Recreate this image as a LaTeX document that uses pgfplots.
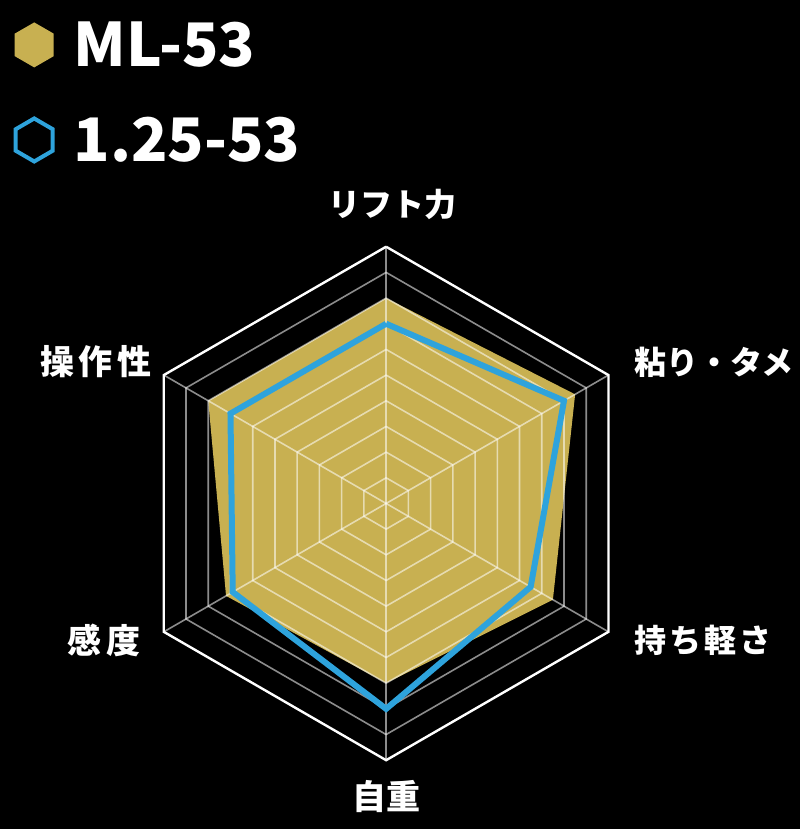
\documentclass[border=0pt]{standalone}
\usepackage{pgfplots}
\pgfplotsset{compat=1.18}
\usepackage{fontspec}
\newfontfamily\jp{Noto Sans CJK JP}
\newfontfamily\jpa{Noto Sans CJK JP}
\newfontfamily\jpb{Noto Sans CJK JP}[LetterSpace=10]
\newfontfamily\jpc{Noto Sans CJK JP}[LetterSpace=14]
\definecolor{gold}{HTML}{C8B051}
\definecolor{skyblue}{HTML}{2EA3DC}
\pgfplotsset{
  grid line/.style={draw=white, draw opacity=0.55, line width=1.6pt, forget plot},
}
\begin{document}
\begin{tikzpicture}
\begin{axis}[
  hide axis,
  x=25.67pt, y=25.67pt,
  xmin=-15.04, xmax=16.13,
  ymin=-12.68, ymax=19.61,
  clip=false,
  legend style={
    at={(axis cs:-14.63,19.08)}, anchor=north west,
    draw=none, fill=none, text=white,
    font=\jp\bfseries\fontsize{60}{60}\selectfont,
    row sep=37pt,
    nodes={inner sep=6pt},
    /tikz/every odd column/.append style={column sep=13pt},
  },
  legend cell align=left,
]
\fill[black] (rel axis cs:0,0) rectangle (rel axis cs:1,1);

% ML-53
\addplot[fill=gold, draw=none, data cs=polar,
  legend image code/.code={\fill[gold] (19.5pt,22.5pt)--(39pt,11.25pt)--(39pt,-11.25pt)--(19.5pt,-22.5pt)--(0pt,-11.25pt)--(0pt,11.25pt)--cycle;}]
  coordinates {(90,8) (30,8.5) (-30,7.5) (-90,7) (-150,7.2) (150,8) (90,8)} \closedcycle;
\addlegendentry{ML-53}

% grid
\pgfplotsinvokeforeach{1,...,9}{
  \addplot[grid line, data cs=polar]
    coordinates {(90,#1) (30,#1) (-30,#1) (-90,#1) (-150,#1) (150,#1) (90,#1)};
}
\pgfplotsinvokeforeach{90,30,-30,-90,-150,150}{
  \addplot[grid line, data cs=polar] coordinates {(#1,0) (#1,10)};
}
\addplot[draw=white, line width=2.4pt, data cs=polar, forget plot]
  coordinates {(90,10) (30,10) (-30,10) (-90,10) (-150,10) (150,10) (90,10)};

% 1.25-53
\addplot[draw=skyblue, line width=6pt, line join=miter, data cs=polar,
  legend image code/.code={\draw[skyblue, line width=4pt] (19.5pt,21.5pt)--(38pt,10.75pt)--(38pt,-10.75pt)--(19.5pt,-21.5pt)--(1pt,-10.75pt)--(1pt,10.75pt)--cycle;}]
  coordinates {(90,7) (30,8) (-30,6.5) (-90,8) (-150,6.9) (150,7) (90,7)};
\addlegendentry{1.25-53}

% axis labels
\begin{scope}[every node/.style={text=white, font=\bfseries\fontsize{32}{32}\selectfont}]
\node at (axis cs:0.23,11.63) {\jpa リフト力};
\node at (axis cs:12.78,5.51) {\jpa 粘り・タメ};
\node at (axis cs:12.35,-5.32) {\jpb 持ち軽さ};
\node[font=\bfseries\fontsize{34}{34}\selectfont] at (axis cs:0,-11.43) {\jpa 自重};
\node[font=\bfseries\fontsize{34}{34}\selectfont] at (axis cs:-11.0,-5.32) {\jpc 感度};
\node[font=\bfseries\fontsize{34}{34}\selectfont] at (axis cs:-11.3,5.51) {\jpc 操作性};
\end{scope}
\end{axis}
\end{tikzpicture}
\end{document}
